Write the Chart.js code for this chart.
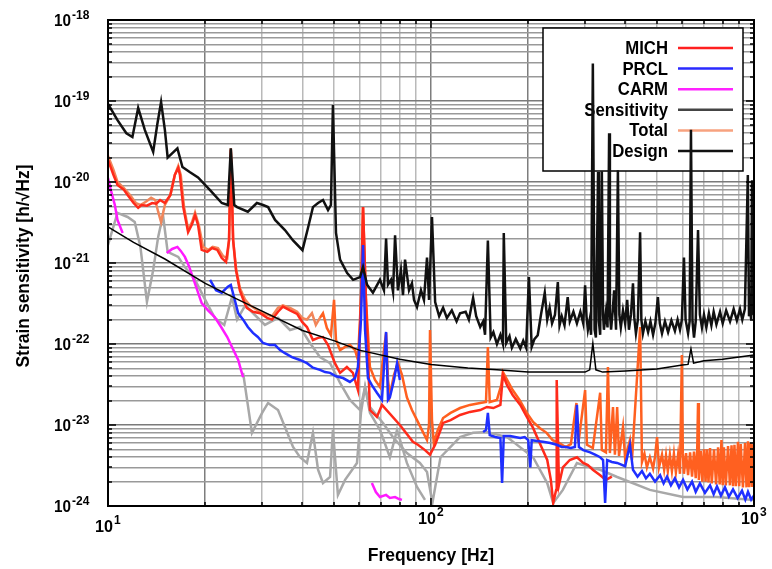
<!DOCTYPE html>
<html>
<head>
<meta charset="utf-8">
<script src="https://cdn.jsdelivr.net/npm/chart.js"></script>
<style>
  html, body { margin: 0; padding: 0; background: #fff; }
  #wrap { width: 772px; height: 569px; }
</style>
</head>
<body>
<div id="wrap"><canvas id="chart" width="772" height="569"></canvas></div>
<script>
// axis decades and their exponent labels
const xDecades = [10, 100, 1000];
const xExps = ['1', '2', '3'];
const yDecades = [1e-18, 1e-19, 1e-20, 1e-21, 1e-22, 1e-23, 1e-24];
const yExps = ['-18', '-19', '-20', '-21', '-22', '-23', '-24'];
const legendNames = ['MICH', 'PRCL', 'CARM', 'Sensitivity', 'Total', 'Design'];

// [frequency Hz, strain 1/sqrt(Hz)]
const sensitivity = [
  [10,9.2e-20],[10.7,5.8e-20],[11.4,4.0e-20],[11.9,3.6e-20],[12.4,8.2e-20],[13.0,4.4e-20],[13.8,2.35e-20],
  [14.2,5.05e-20],[14.6,9.7e-20],[15.0,4.4e-20],[15.3,2.0e-20],[16.4,2.6e-20],[17.0,1.53e-20],[17.9,1.33e-20],
  [19.0,1.14e-20],[20.7,7.95e-21],[22.5,5.5e-21],[23.5,5.2e-21],[24.0,2.6e-20],[24.6,5.2e-21],[25.1,4.9e-21],
  [27.1,4.3e-21],[28.9,5.5e-21],[30.2,5.2e-21],[31.3,4.9e-21],[32.9,3.4e-21],[35.3,2.55e-21],[37.4,1.9e-21],
  [40.0,1.44e-21],[41.6,2.7e-21],[43.1,4.9e-21],[44.7,5.5e-21],[46.3,6.0e-21],[48.0,4.5e-21],[49.0,5.2e-21],
  [49.7,8.9e-20],[50.8,2.35e-21],[52.3,1.1e-21],[55.0,7.5e-22],[57.4,6.2e-22],[60.3,6.7e-22],[61.6,8.9e-22],
  [63.4,5.4e-22],[66.1,4.3e-22],[69.5,6.2e-22],[71.5,4.6e-22],[72.6,2.0e-21],[73.6,5.4e-22],[75.2,6.2e-22],
  [76.3,4.4e-22],[77.4,2.2e-21],[79.0,4.6e-22],[80.7,8.2e-22],[81.9,4.0e-22],[83.1,1.1e-21],[85.5,4.6e-22],
  [87.3,5.6e-22],[88.6,3.5e-22],[90.5,2.86e-22],[93.1,4.6e-22],[95.1,3.5e-22],[97.2,1.17e-21],[98.6,3.5e-22],
  [100.7,3.7e-21],[103,3.3e-22],[106,2.2e-22],[109,2.8e-22],[112,2.1e-22],[116,2.6e-22],[120,1.9e-22],
  [123,2.4e-22],[128,2.5e-22],[131,2.0e-22],[135,3.7e-22],[138,2.2e-22],[142,1.62e-22],[145,1.9e-22],
  [147,1.3e-22],[150,1.9e-21],[153,1.2e-22],[156,1.4e-22],[160,1.0e-22],[164,1.3e-22],[167,1.0e-22],
  [168,2.35e-21],[171,1.03e-22],[175,1.25e-22],[178,9.0e-23],[183,1.15e-22],[189,8.8e-23],[193,1.1e-22],
  [197,9.0e-23],[201,6.7e-22],[205,9.2e-23],[209,1.15e-22],[214,1.28e-22],[219,2.3e-22],[225,4.3e-22],
  [229,2.0e-22],[233,2.8e-22],[237,1.8e-22],[242,2.3e-22],[247,5.8e-22],[250,1.7e-22],[254,2.2e-22],
  [259,1.7e-22],[265,3.8e-22],[269,1.9e-22],[276,2.5e-22],[283,1.8e-22],[290,2.5e-22],[296,1.8e-22],
  [300,5.3e-22],[303,2.2e-22],[306,1.5e-22],[310,2.0e-22],[313,1.3e-22],[317,2.9e-19],[321,1.5e-22],
  [324,1.2e-22],[329,1.33e-20],[331,1.9e-22],[334,1.3e-22],[338,1.36e-20],[341,2.3e-22],[343,1.5e-22],
  [348,2.5e-22],[352,1.6e-22],[356,4.0e-20],[358,2.4e-22],[361,1.5e-22],[365,2.5e-22],[369,4.6e-22],
  [372,2.3e-22],[374,1.5e-22],[379,1.4e-20],[383,2.3e-22],[387,1.6e-22],[393,2.6e-22],[399,1.8e-22],
  [405,3.5e-22],[410,1.5e-22],[416,2.3e-22],[422,5.6e-22],[426,2.1e-22],[431,1.35e-22],[437,2.0e-22],
  [444,2.4e-21],[448,2.0e-22],[453,1.35e-22],[461,1.9e-22],[470,1.4e-22],[478,1.9e-22],[487,1.3e-22],
  [495,1.8e-22],[504,3.8e-22],[511,1.8e-22],[519,1.35e-22],[530,1.9e-22],[542,1.4e-22],[555,1.95e-22],
  [569,1.45e-22],[580,2.0e-22],[590,1.5e-22],[598,2.0e-22],[607,1.17e-21],[614,2.0e-22],[625,1.35e-22],
  [632,1.9e-22],[638,4.4e-20],[645,1.9e-22],[652,1.2e-22],[660,1.9e-22],[671,2.55e-21],[680,2.3e-22],
  [690,1.6e-22],[700,2.3e-22],[712,1.6e-22],[725,2.4e-22],[738,1.7e-22],[750,2.5e-22],[765,1.75e-22],
  [785,2.5e-22],[800,1.8e-22],[820,2.6e-22],[843,1.9e-22],[865,2.7e-22],[885,1.95e-22],[905,2.7e-22],
  [920,2.0e-22],[937,2.7e-22],[957,1.22e-20],[965,2.2e-22],[972,2.8e-22],[980,2.0e-22],[986,1.05e-20],
  [993,2.4e-22],[1000,2.3e-22]
];

const design = [
  [10,2.8e-21],[12,1.8e-21],[15,1.12e-21],[20,5.6e-22],[25,3.6e-22],[30,2.55e-22],[40,1.47e-22],
  [50,1.1e-22],[60,8.4e-23],[80,6.5e-23],[100,5.6e-23],[130,5.05e-23],[160,4.8e-23],[200,4.5e-23],
  [250,4.5e-23],[300,4.5e-23],[310,4.8e-23],[317,1.02e-22],[324,4.8e-23],[340,4.5e-23],[400,4.65e-23],
  [500,4.9e-23],[600,5.5e-23],[625,5.6e-23],[638,8.7e-23],[650,5.8e-23],[700,6.2e-23],[800,6.5e-23],
  [900,6.9e-23],[1000,7.3e-23]
];

const mich = [
  [10,1.87e-20],[10.4,1.22e-20],[10.7,9.2e-21],[11.2,8.0e-21],[11.5,6.9e-21],[12.0,5.5e-21],[12.4,4.8e-21],
  [12.7,5.2e-21],[13.2,5.1e-21],[13.7,5.5e-21],[14.1,5.4e-21],[14.5,6.0e-21],[15.0,5.5e-21],[15.6,6.9e-21],
  [16.1,1.22e-20],[16.5,1.49e-20],[16.7,1.22e-20],[17.1,4.9e-21],[17.7,2.4e-21],[18.2,3.0e-21],[18.6,3.9e-21],
  [19.0,2.95e-21],[19.5,1.45e-21],[20.3,1.37e-21],[21.0,1.53e-21],[21.8,1.45e-21],[22.5,1.15e-21],[23.2,1.03e-21],
  [23.7,1.92e-21],[24.0,2.5e-20],[24.4,1.92e-21],[24.9,8.2e-22],[25.6,4.6e-22],[26.4,3.3e-22],[26.9,2.8e-22],
  [28.1,2.5e-22],[29.6,2.4e-22],[31.1,2.1e-22],[32.2,2.0e-22],[33.6,2.5e-22],[34.8,2.9e-22],[36.6,2.6e-22],
  [38.5,2.35e-22],[39.9,1.87e-22],[41.3,1.62e-22],[43.1,1.12e-22],[44.7,1.19e-22],[46.3,1.22e-22],[48.0,9.7e-23],
  [50.4,5.8e-23],[52.3,4.4e-23],[54.9,5.2e-23],[57.3,4.4e-23],[59.4,2.7e-23],[60.7,3.5e-22],[61.6,4.9e-21],
  [62.9,3.5e-22],[64.7,1.53e-23],[68.0,1.26e-23],[70.5,1.77e-23],[80.1,1.0e-23],[87.9,6.2e-24],[91.1,5.7e-24],
  [95.8,4.9e-24],[99.3,4.3e-24],[103,5.7e-24],[109,1.06e-23],[115,1.15e-23],[123,1.33e-23],[132,1.45e-23],
  [142,1.53e-23],[149,1.67e-23],[156,1.62e-23],[164,1.77e-23],[167,4.15e-23],[172,3.1e-23],[179,2.35e-23],
  [189,1.77e-23],[198,1.26e-23],[207,9.2e-24],[217,6.0e-24],[229,3.7e-24],[235,2.1e-24],[239,1.09e-24],
  [244,1.58e-24],[245,3.6e-23],[249,1.82e-24],[256,3.0e-24],[269,3.7e-24],[283,4.0e-24],[296,3.4e-24],
  [306,3.2e-24],[317,2.8e-24],[334,2.4e-24],[348,2.1e-24],[363,2.3e-24]
];

const prcl = [
  [20.7,6.2e-22],[21.6,4.6e-22],[22.5,4.3e-22],[23.5,5.1e-22],[24.0,5.35e-22],[24.6,3.7e-22],[25.3,2.4e-22],
  [26.2,2.0e-22],[27.1,1.62e-22],[28.1,1.37e-22],[29.1,1.22e-22],[30.2,1.03e-22],[31.7,9.7e-23],[32.9,9.7e-23],
  [34.1,8.4e-23],[35.3,7.7e-23],[37.1,6.9e-23],[39.3,6.35e-23],[41.3,5.8e-23],[43.1,5.1e-23],[45.3,4.8e-23],
  [47.0,4.5e-23],[48.7,4.4e-23],[50.8,4.0e-23],[53.4,3.8e-23],[56.1,3.4e-23],[58.2,3.8e-23],[59.4,5.2e-23],
  [60.7,2.0e-22],[61.6,1.67e-21],[62.5,1.49e-22],[63.8,3.8e-23],[65.6,3.1e-23],[68.0,2.5e-23],[70.5,2.04e-23],
  [72.6,1.41e-22],[73.6,2.04e-23],[74.6,2.2e-23],[76.8,3.6e-23],[78.5,5.8e-23],[80.1,3.6e-23],
  [120,null],
  [145,8.2e-24],[148,8.7e-24],[150,1.41e-23],[152,7.5e-24],[158,7.1e-24],[164,6.9e-24],[166,1.92e-24],
  [168,7.3e-24],[176,7.3e-24],[182,7.1e-24],[189,6.9e-24],[195,7.1e-24],[200,6.5e-24],[203,3.0e-24],
  [205,6.5e-24],[213,6.35e-24],[222,6.2e-24],[234,6.0e-24],[245,5.7e-24],[254,5.35e-24],[261,5.35e-24],
  [271,5.2e-24],[279,5.35e-24],[283,1.77e-23],[287,5.35e-24],[296,4.9e-24],[311,4.6e-24],[322,4.3e-24],
  [334,4.0e-24],[341,3.7e-24],[346,1.09e-24],[351,3.7e-24],[363,3.5e-24],[377,3.4e-24],[399,3.1e-24],
  [413,5.7e-24],[422,2.8e-24],[436,2.3e-24],[450,2.7e-24],[463,2.2e-24],[476,2.5e-24],[494,2.0e-24],
  [512,2.4e-24],[525,1.9e-24],[538,2.3e-24],[553,1.8e-24],[569,2.2e-24],[586,1.7e-24],[603,2.1e-24],
  [622,1.6e-24],[643,2.0e-24],[660,1.5e-24],[680,1.9e-24],[705,1.45e-24],[731,1.8e-24],[750,1.4e-24],
  [768,1.75e-24],[790,1.35e-24],[813,1.7e-24],[836,1.3e-24],[861,1.6e-24],[890,1.25e-24],[918,1.55e-24],
  [940,1.2e-24],[958,1.5e-24],[980,1.2e-24],[1000,1.35e-24]
];

const carm = [
  [10,1.12e-20],[10.2,8.0e-21],[10.5,5.2e-21],[10.7,3.4e-21],[11.1,2.35e-21],
  [13,null],
  [15.2,1.33e-21],[15.8,1.49e-21],[16.4,1.58e-21],[16.8,1.41e-21],[17.3,1.19e-21],[17.8,9.2e-22],[18.3,6.7e-22],
  [18.9,4.6e-22],[19.5,3.2e-22],[20.4,2.6e-22],[21.4,2.15e-22],[22.4,1.62e-22],[23.4,1.22e-22],[24.2,9.2e-23],
  [25.3,6.35e-23],[25.8,4.8e-23],[26.2,3.9e-23],
  [40,null],
  [65.6,1.92e-24],[67.5,1.49e-24],[69.5,1.29e-24],[72.6,1.37e-24],[74.6,1.26e-24],[77.4,1.29e-24],
  [79.6,1.22e-24],[81.3,1.19e-24]
];

const total = [
  [10,2.1e-20],[10.4,1.41e-20],[10.7,1.0e-20],[11.2,8.4e-21],[11.7,6.9e-21],[12.2,5.5e-21],[12.6,5.2e-21],
  [13.1,5.7e-21],[13.6,6.4e-21],[14.0,6.0e-21],[14.3,4.3e-21],[14.6,3.2e-21],[15.0,5.2e-21],[15.6,6.9e-21],
  [16.1,1.22e-20],[16.5,1.58e-20],[16.8,1.22e-20],[17.2,4.9e-21],[17.7,2.6e-21],[18.2,3.2e-21],[18.6,4.2e-21],
  [19.1,2.95e-21],[19.7,1.58e-21],[20.4,1.45e-21],[21.1,1.58e-21],[21.9,1.53e-21],[22.7,1.22e-21],[23.4,1.15e-21],
  [23.7,1.92e-21],[24.0,2.6e-20],[24.4,1.92e-21],[24.9,8.7e-22],[25.6,4.9e-22],[26.6,3.5e-22],[27.5,3.0e-22],
  [29.1,2.6e-22],[30.6,2.35e-22],[32.2,2.2e-22],[33.6,2.8e-22],[34.8,3.0e-22],[36.6,2.8e-22],[38.5,2.5e-22],
  [39.9,2.1e-22],[41.3,2.0e-22],[42.8,2.4e-22],[44.0,1.72e-22],[45.3,2.1e-22],[46.3,2.4e-22],[47.6,1.58e-22],
  [49.0,1.29e-22],[50.1,3.5e-22],[50.8,1.12e-22],[52.3,8.4e-23],[54.2,9.2e-23],[56.1,9.7e-23],[58.2,8.4e-23],
  [59.4,6.35e-23],[60.7,3.5e-22],[61.6,4.9e-21],[62.9,3.5e-22],[64.7,5.2e-23],[67.1,3.6e-23],[69.5,2.95e-23],
  [71.5,8.4e-23],[72.6,1.37e-22],[73.6,3.6e-23],[74.6,2.35e-23],[76.8,4.15e-23],[79.0,5.8e-23],[81.3,4.15e-23],
  [84.2,2.2e-23],[87.3,1.53e-23],[90.5,1.15e-23],[93.7,8.7e-24],[97.2,6.5e-24],[98.6,1.0e-23],[99.3,1.49e-22],
  [100.7,1.15e-23],[102,6.0e-24],[105,8.7e-24],[109,1.22e-23],[115,1.41e-23],[123,1.62e-23],[132,1.77e-23],
  [142,1.87e-23],[148,1.92e-23],[150,9.2e-23],[152,1.92e-23],[160,2.04e-23],[165,3.1e-23],[167,4.5e-23],
  [172,3.6e-23],[179,2.7e-23],[188,2.04e-23],[198,1.41e-23],[207,1.09e-23],[217,9.2e-24],[228,8.0e-24],
  [238,6.5e-24],[249,6.0e-24],[261,5.35e-24],[271,5.8e-24],[282,1.87e-23],[286,6.0e-24],[300,2.7e-23],
  [304,5.7e-24],[317,5.2e-24],[334,2.5e-23],[338,4.9e-24],[348,4.6e-24],[353,5.2e-23],[358,4.5e-24],
  [366,1.67e-23],[371,4.3e-24],[377,1.67e-23],[382,4.15e-24],[393,9.45e-24],[399,3.9e-24],[413,6.5e-24],
  [419,3.7e-24],[444,1.62e-22],[450,3.5e-24],[458,4.4e-24],[466,3.0e-24],[476,4.0e-24],[487,2.9e-24],
  [494,4.1e-24],[501,7.1e-24],[508,3.0e-24],[519,4.3e-24],[527,2.8e-24],[534,4.2e-24],[541,2.7e-24],
  [549,4.3e-24],[557,2.7e-24],[565,4.4e-24],[573,2.6e-24],[582,4.3e-24],[590,2.5e-24],[598,7.3e-23],
  [602,4.4e-24],[607,2.5e-24],[616,4.5e-24],[625,2.4e-24],[634,4.6e-24],[643,2.3e-24],[652,4.7e-24],
  [660,2.2e-24],[667,4.8e-24],[671,1.87e-23],[675,2.1e-24],[684,4.8e-24],[692,2.0e-24],[700,5.0e-24],
  [708,2.0e-24],[715,5.0e-24],[723,1.95e-24],[731,5.2e-24],[740,1.9e-24],[752,5.0e-24],[763,1.85e-24],
  [774,5.3e-24],[783,1.85e-24],[793,6.5e-24],[800,1.8e-24],[807,5.3e-24],[818,1.8e-24],[831,5.5e-24],
  [842,1.8e-24],[852,5.6e-24],[861,1.75e-24],[870,5.7e-24],[879,1.75e-24],[892,6.2e-24],[900,1.75e-24],
  [910,5.8e-24],[924,1.7e-24],[938,6.0e-24],[948,1.7e-24],[958,6.3e-24],[966,1.7e-24],[975,6.0e-24],
  [986,1.72e-24],[993,5.8e-24],[1000,3.0e-24]
];

// two unlabelled grey traces
const greyUpper = [
  [10,1.67e-21],[10.7,4.15e-21],[11.5,3.7e-21],[12.1,3.2e-21],[12.6,1.58e-21],[13.2,3.3e-22],[13.8,8.2e-22],
  [14.3,2.1e-21],[14.8,3.9e-21],[15.3,1.37e-21],[16.5,1.19e-21],[17.3,8.9e-22],[18.6,6.2e-22],[20.0,3.5e-22],
  [21.4,2.1e-22],[22.9,1.72e-22],[24.2,3.8e-22],[25.1,2.0e-22],[26.6,3.0e-22],[28.5,2.28e-22],[30.6,1.72e-22],
  [33.6,2.1e-22],[36.6,1.49e-22],[39.3,1.62e-22],[42.2,1.03e-22],[45.3,6.9e-23],[48.7,5.8e-23],[52.3,3.3e-23],
  [56.1,2.04e-23],[60.3,1.53e-23],[62.5,2.95e-23],[64.7,1.67e-23],[71.0,1.06e-23],[76.2,7.1e-24],[84.2,4.5e-24],
  [92.4,3.4e-24],[97.2,2.63e-24],[101,1.09e-24],[107,4.0e-24],[123,7.1e-24],[135,8.0e-24],[149,8.2e-24],
  [172,7.1e-24],[207,4.0e-24],[229,1.92e-24],[239,1.09e-24],[256,1.58e-24],[283,3.4e-24],[311,3.0e-24],
  [334,2.8e-24],[377,2.28e-24],[476,1.58e-24],[603,1.29e-24],[768,1.29e-24],[1000,1.19e-24]
];

const greyLower = [
  [26.2,4.4e-23],[27.9,8.0e-24],[30.0,1.41e-23],[31.3,1.87e-23],[33.6,1.53e-23],[35.3,9.45e-24],[37.4,5.35e-24],
  [39.3,4.0e-24],[41.3,3.4e-24],[43.1,8.0e-24],[44.7,2.8e-24],[46.3,1.92e-24],[48.7,2.28e-24],[49.7,8.7e-24],
  [51.5,1.37e-24],[54.2,2.1e-24],[59.0,3.4e-24],[60.7,1.41e-23],[62.5,2.95e-23],[64.7,1.41e-23],[69.5,8.7e-24],
  [74.6,4.0e-24],[78.5,8.7e-24],[84.2,3.4e-24],[90.5,1.72e-24],[95.8,1.19e-24]
];

const FONT = '"Liberation Sans", Arial, sans-serif';

function toPoints(rows) {
  return rows.map(r => ({ x: r[0], y: r[1] }));
}

function trace(label, rows, color, width) {
  return {
    label: label,
    data: toPoints(rows),
    borderColor: color,
    backgroundColor: color,
    borderWidth: width,
    pointRadius: 0,
    tension: 0,
    fill: false,
    spanGaps: false
  };
}

// gridlines at 1..9 x each decade
function logGrid(decades) {
  const sorted = decades.slice().sort((a, b) => a - b);
  const out = [];
  sorted.forEach((d, i) => {
    for (let m = 1; m < 10; m++) {
      if (i === sorted.length - 1 && m > 1) break;
      out.push({ value: d * m, major: m === 1, sig: m });
    }
  });
  return out;
}

const legendColors = ['#ff2020', '#2a2aff', '#ff22ff', '#444444', '#f7a27f', '#111111'];

const decorations = {
  id: 'decorations',
  beforeDatasetsDraw(chart) {
    // legend box sits under the traces, spikes cross it in the original
    const ctx = chart.ctx;
    ctx.save();
    ctx.fillStyle = '#fff';
    ctx.fillRect(543, 28, 200, 143);
    ctx.strokeStyle = '#000';
    ctx.lineWidth = 1.5;
    ctx.strokeRect(543, 28, 200, 143);
    ctx.font = 'bold 18px ' + FONT;
    ctx.textAlign = 'right';
    ctx.textBaseline = 'middle';
    legendNames.forEach((name, i) => {
      const y = 48 + i * 20.6;
      ctx.fillStyle = '#000';
      const w = ctx.measureText(name).width;
      ctx.fillText(name, 668, y + 1, w * 0.93);
      ctx.strokeStyle = legendColors[i];
      ctx.lineWidth = 2.5;
      ctx.beginPath();
      ctx.moveTo(678, y);
      ctx.lineTo(733, y);
      ctx.stroke();
    });
    ctx.restore();
  },
  afterDraw(chart) {
    const ctx = chart.ctx;
    const a = chart.chartArea;
    const xs = chart.scales.x;
    const ys = chart.scales.y;
    ctx.save();

    // inward tick marks
    ctx.strokeStyle = '#000';
    ctx.lineWidth = 1.5;
    ys.ticks.forEach(t => {
      const y = Math.round(ys.getPixelForValue(t.value));
      const len = t.major ? 8 : 4;
      ctx.beginPath();
      ctx.moveTo(a.left, y); ctx.lineTo(a.left + len, y);
      ctx.moveTo(a.right, y); ctx.lineTo(a.right - len, y);
      ctx.stroke();
    });
    xs.ticks.forEach(t => {
      const x = Math.round(xs.getPixelForValue(t.value));
      const len = t.major ? 8 : 4;
      ctx.beginPath();
      ctx.moveTo(x, a.bottom); ctx.lineTo(x, a.bottom - len);
      ctx.moveTo(x, a.top); ctx.lineTo(x, a.top + len);
      ctx.stroke();
    });

    // frame
    ctx.lineWidth = 2;
    ctx.strokeRect(a.left, a.top, a.right - a.left, a.bottom - a.top);

    // tick labels 10^n
    ctx.fillStyle = '#000';
    ctx.textBaseline = 'middle';
    yDecades.forEach((v, i) => {
      const y = ys.getPixelForValue(v);
      ctx.font = 'bold 17px ' + FONT;
      ctx.textAlign = 'right';
      ctx.fillText('10', 71, y + 1, 17);
      ctx.font = 'bold 12px ' + FONT;
      ctx.textAlign = 'left';
      ctx.fillText(yExps[i], 72, y - 4);
    });
    xDecades.forEach((v, i) => {
      const x = xs.getPixelForValue(v);
      const y = i === 0 ? 527 : 519;
      ctx.font = 'bold 17px ' + FONT;
      ctx.textAlign = 'right';
      ctx.fillText('10', x + 5, y, 18);
      ctx.font = 'bold 12px ' + FONT;
      ctx.textAlign = 'left';
      ctx.fillText(xExps[i], x + 6, y - 6);
    });

    // axis titles
    ctx.font = 'bold 17.5px ' + FONT;
    ctx.textAlign = 'center';
    ctx.fillText('Frequency [Hz]', (a.left + a.right) / 2, 556);
    ctx.translate(24, 266);
    ctx.rotate(-Math.PI / 2);
    ctx.fillText('Strain sensitivity [h/\u221AHz]', 0, 0);
    ctx.restore();
  }
};

const totalTrace = trace('Total', total, '#ff6a30', 2.5);
// the low-frequency part of Total reads lighter than the high-frequency part
totalTrace.segment = {
  borderColor: c => c.p0.parsed.x < 45 ? '#f2865a' : '#ff6020'
};

new Chart(document.getElementById('chart'), {
  type: 'line',
  data: {
    datasets: [
      trace('Sensitivity', sensitivity, '#111111', 2.5),
      trace('Design', design, '#000000', 1.5),
      trace('PRCL', prcl, '#1f2fff', 2.5),
      trace('MICH', mich, '#ff2a1a', 2.5),
      totalTrace,
      trace('CARM', carm, '#ff1aff', 2.5),
      trace('', greyUpper, '#a8a8a8', 2.5),
      trace('', greyLower, '#a8a8a8', 2.5)
    ]
  },
  options: {
    responsive: false,
    animation: false,
    events: [],
    layout: { padding: { left: 0, right: 18, top: 20, bottom: 0 } },
    plugins: {
      legend: { display: false },
      tooltip: { enabled: false }
    },
    scales: {
      x: {
        type: 'logarithmic',
        min: 10,
        max: 1000,
        afterBuildTicks: s => { s.ticks = logGrid(xDecades); },
        afterFit: s => { s.height = 63; },
        ticks: { display: false },
        border: { display: false },
        grid: {
          drawTicks: false,
          lineWidth: 1.5,
          color: c => (c.tick && (c.tick.sig === 1 || c.tick.sig === 2)) ? '#7d7d7d' : '#b9b9b9'
        }
      },
      y: {
        type: 'logarithmic',
        min: 1e-24,
        max: 1e-18,
        afterBuildTicks: s => { s.ticks = logGrid(yDecades); },
        afterFit: s => { s.width = 108; },
        ticks: { display: false },
        border: { display: false },
        grid: {
          drawTicks: false,
          lineWidth: 1.5,
          color: c => (c.tick && c.tick.major) ? '#7a7a7a' : '#999999'
        }
      }
    }
  },
  plugins: [decorations]
});
</script>
</body>
</html>
